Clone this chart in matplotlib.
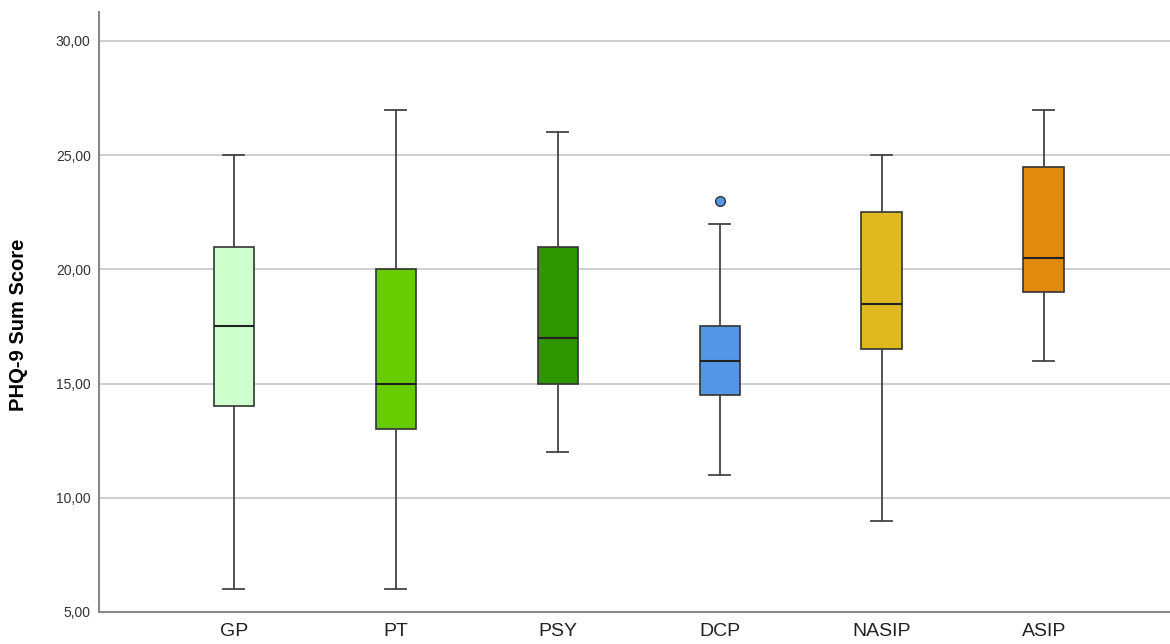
import matplotlib.pyplot as plt
from matplotlib.ticker import FuncFormatter

plt.rcParams['font.family'] = ['Liberation Sans', 'DejaVu Sans']

groups = ["GP", "PT", "PSY", "DCP", "NASIP", "ASIP"]
whisker_low = [6, 6, 12, 11, 9, 16]
q1 = [14, 13, 15, 14.5, 16.5, 19]
median = [17.5, 15, 17, 16, 18.5, 20.5]
q3 = [21, 20, 21, 17.5, 22.5, 24.5]
whisker_high = [25, 27, 26, 22, 25, 27]
outliers = [[], [], [], [23], [], []]
colors = ["#ccffcc", "#66cc00", "#2e9600", "#5596e6", "#dfb91f", "#e08a0e"]

stats = []
for i, name in enumerate(groups):
    stats.append({
        "label": name,
        "whislo": whisker_low[i],
        "q1": q1[i],
        "med": median[i],
        "q3": q3[i],
        "whishi": whisker_high[i],
        "fliers": outliers[i],
    })

fig = plt.figure(figsize=(11.7, 6.44), dpi=100)
ax = fig.add_axes([0.0846, 0.0497, 0.9154, 0.9317])

bp = ax.bxp(
    stats,
    positions=range(len(groups)),
    widths=0.25,
    patch_artist=True,
    showfliers=True,
    boxprops=dict(edgecolor="#333333", linewidth=1.2),
    medianprops=dict(color="#222222", linewidth=1.5),
    whiskerprops=dict(color="#444444", linewidth=1.3),
    capprops=dict(color="#444444", linewidth=1.3),
    capwidths=0.13,
)
for box, c in zip(bp["boxes"], colors):
    box.set_facecolor(c)
for fl, c in zip(bp["fliers"], colors):
    fl.set(marker="o", markerfacecolor=c, markeredgecolor="#333333",
           markersize=7, markeredgewidth=1.0)

ax.set_xlim(-0.833, 5.78)
ax.set_ylim(5, 31.27)
ax.set_yticks([5, 10, 15, 20, 25, 30])
ax.yaxis.set_major_formatter(FuncFormatter(lambda v, _: f"{v:.2f}".replace(".", ",")))
ax.grid(axis="y", color="#cccccc", linewidth=1.3, zorder=0)
ax.set_axisbelow(True)

for side in ["top", "right"]:
    ax.spines[side].set_visible(False)
for side in ["left", "bottom"]:
    ax.spines[side].set_color("#888888")
    ax.spines[side].set_linewidth(1.5)

ax.tick_params(axis="both", length=0)
ax.tick_params(axis="y", labelsize=10, labelcolor="#333333", pad=6)
ax.tick_params(axis="x", labelsize=14, labelcolor="#222222", pad=8)
ax.set_ylabel("PHQ-9 Sum Score", fontsize=14.5, fontweight="bold")
ax.yaxis.set_label_coords(-0.066, 0.478)

fig.savefig("out.png", dpi=100)
